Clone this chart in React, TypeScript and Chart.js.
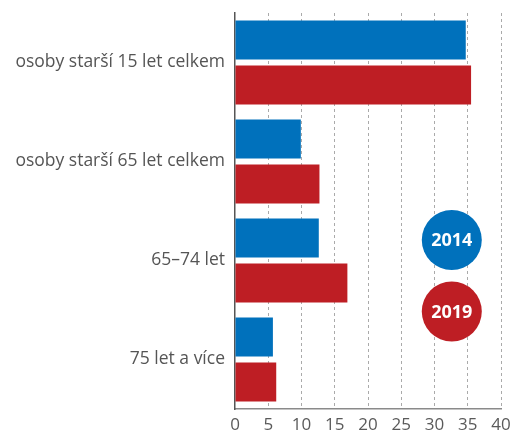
import React, { useEffect, useRef } from "react";
import { Chart, registerables } from "chart.js";

Chart.register(...registerables);

const categories = [
  "osoby starší 15 let celkem",
  "osoby starší 65 let celkem",
  "65–74 let",
  "75 let a více",
];
const values2014 = [34.7, 9.9, 12.6, 5.7];
const values2019 = [35.5, 12.7, 16.9, 6.2];
const seriesLabels = ["2014", "2019"];
const xTicks = [0, 5, 10, 15, 20, 25, 30, 35, 40];

const BLUE = "#0071bc";
const RED = "#be1e24";

const badgePlugin = {
  id: "badges",
  afterDraw(chart: any) {
    const { ctx, chartArea } = chart;
    const x = chart.scales.x;
    const cx = x.getPixelForValue(32.6);
    const items = [
      { label: seriesLabels[0], color: BLUE, cy: chartArea.top + 227 },
      { label: seriesLabels[1], color: RED, cy: chartArea.top + 298.5 },
    ];
    ctx.save();
    for (const it of items) {
      ctx.beginPath();
      ctx.arc(cx, it.cy, 30, 0, Math.PI * 2);
      ctx.fillStyle = it.color;
      ctx.fill();
      ctx.fillStyle = "#ffffff";
      ctx.font = "bold 18px 'Open Sans'";
      ctx.textAlign = "center";
      ctx.textBaseline = "middle";
      ctx.fillText(it.label, cx, it.cy + 1);
    }
    ctx.restore();
  },
};

export default function App() {
  const ref = useRef<HTMLCanvasElement>(null);
  useEffect(() => {
    document.body.style.margin = "0";
    const chart = new Chart(ref.current!, {
      type: "bar",
      data: {
        labels: categories,
        datasets: [
          { label: seriesLabels[0], data: values2014, backgroundColor: BLUE },
          { label: seriesLabels[1], data: values2019, backgroundColor: RED },
        ],
      },
      options: {
        indexAxis: "y",
        animation: false,
        responsive: false,
        maintainAspectRatio: false,
        layout: { padding: { top: 13, right: 11, left: 0, bottom: 0 } },
        plugins: { legend: { display: false }, tooltip: { enabled: false } },
        datasets: { bar: { categoryPercentage: 0.909, barPercentage: 0.867 } },
        scales: {
          x: {
            min: 0,
            max: 40,
            afterBuildTicks: (s: any) => {
              s.ticks = xTicks.map((v) => ({ value: v }));
            },
            afterFit: (s: any) => {
              s.height = 25;
              s.paddingRight = 0;
              s.paddingLeft = 0;
            },
            grid: {
              display: true,
              drawTicks: false,
              color: (c: any) => (c.tick && c.tick.value === 0 ? "rgba(0,0,0,0)" : "#aaaaaa"),
              lineWidth: 1,
            },
            border: { display: true, color: "#8a8a8a", width: 1.5, dash: [3, 3] },
            ticks: {
              color: "#5a5a5a",
              font: { family: "'Open Sans'", size: 17 },
              padding: 6,
              maxRotation: 0,
            },
          },
          y: {
            afterFit: (s: any) => {
              s.width = 235;
              s.paddingTop = 0;
              s.paddingBottom = 0;
            },
            grid: { display: false, drawTicks: false },
            border: { display: true, color: "#555555", width: 1.5 },
            ticks: {
              color: "#555555",
              font: { family: "'Open Sans'", size: 17.5 },
              padding: 10,
            },
          },
        },
      },
      plugins: [badgePlugin],
    });
    return () => chart.destroy();
  }, []);
  return (
    <div style={{ width: 512, height: 434 }}>
      <canvas ref={ref} width={512} height={434} />
    </div>
  );
}
